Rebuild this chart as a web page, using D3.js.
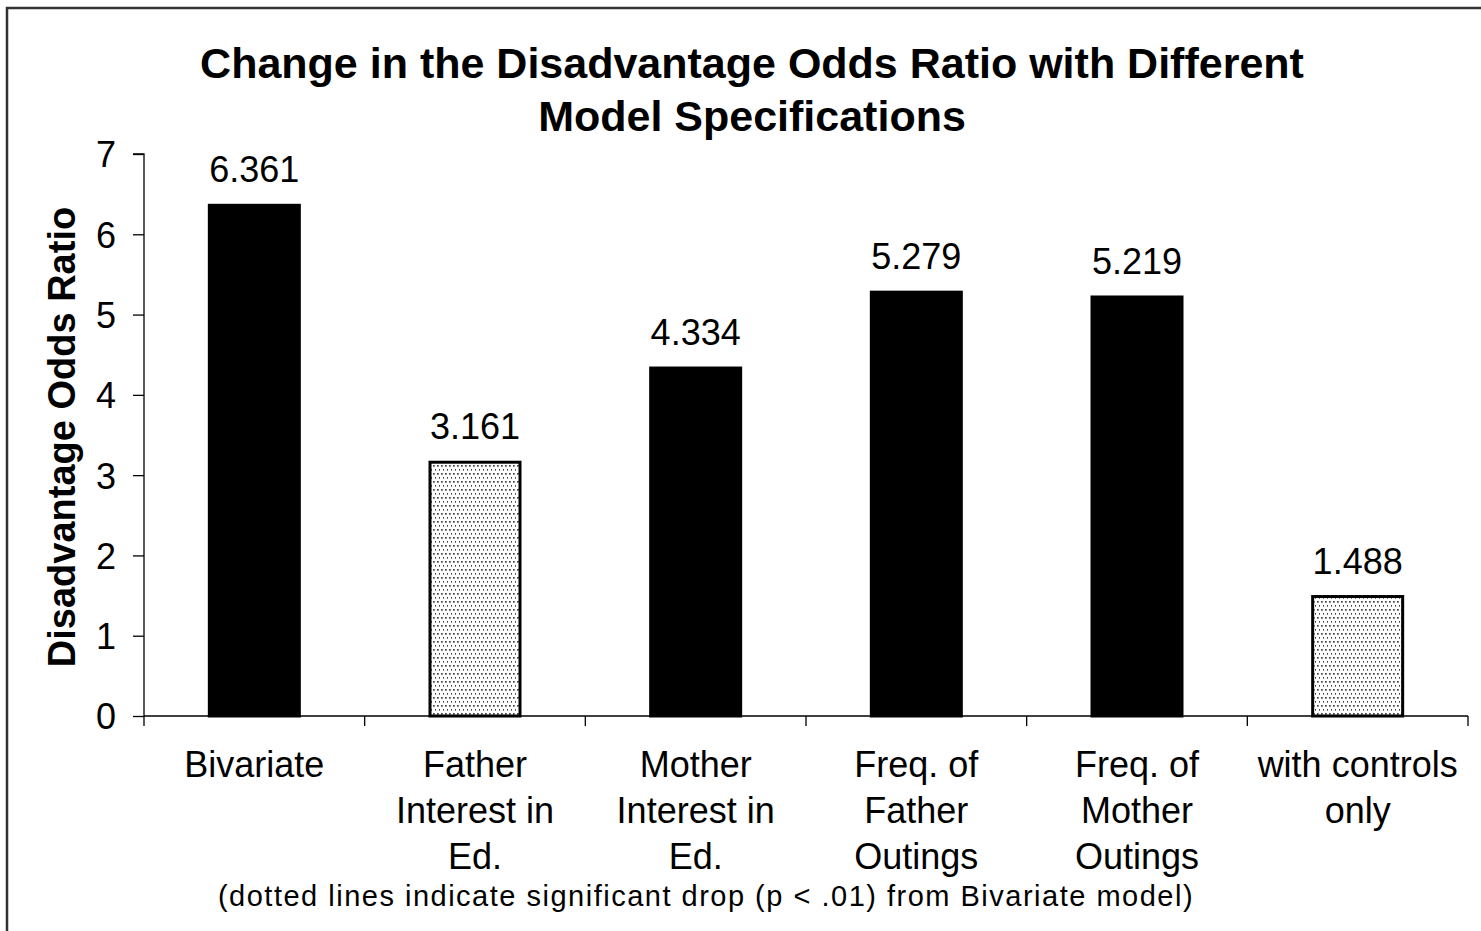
<!DOCTYPE html>
<html><head><meta charset="utf-8">
<script src="https://cdn.jsdelivr.net/npm/d3@7"></script>
<style>body{margin:0;background:#fff}svg{display:block;font-family:"Liberation Sans",Arial,sans-serif}</style>
</head><body>
<script>
const categories = ["Bivariate","Father Interest in Ed.","Mother Interest in Ed.","Freq. of Father Outings","Freq. of Mother Outings","with controls only"];
const categoryLines = [["Bivariate"],["Father","Interest in","Ed."],["Mother","Interest in","Ed."],["Freq. of","Father","Outings"],["Freq. of","Mother","Outings"],["with controls","only"]];
const values = [6.361, 3.161, 4.334, 5.279, 5.219, 1.488];
const valueLabels = ["6.361","3.161","4.334","5.279","5.219","1.488"];
const significant = [false, true, false, false, false, true];
const yTicks = [0,1,2,3,4,5,6,7];
const titleLines = ["Change in the Disadvantage Odds Ratio with Different","Model Specifications"];
const yTitle = "Disadvantage Odds Ratio";
const footnote = "(dotted lines indicate significant drop (p < .01) from Bivariate model)";

const W = 1481, H = 931;
const svg = d3.select("body").append("svg").attr("width", W).attr("height", H);

const defs = svg.append("defs");
const pat = defs.append("pattern").attr("id","dots").attr("patternUnits","userSpaceOnUse")
  .attr("width",4).attr("height",8);
pat.append("rect").attr("width",4).attr("height",8).attr("fill","#fff");
pat.append("rect").attr("x",1).attr("y",1).attr("width",1.7).attr("height",1.7).attr("fill","#444");
pat.append("rect").attr("x",3).attr("y",5).attr("width",1.7).attr("height",1.7).attr("fill","#444");

// outer border
svg.append("rect").attr("x",7).attr("y",8).attr("width",1500).attr("height",960)
  .attr("fill","none").attr("stroke","#333").attr("stroke-width",2.5);

const x0 = 144, x1 = 1468, y0 = 716, y1 = 154;
const x = d3.scaleBand().domain(categories).range([x0, x1]).padding(0);
const y = d3.scaleLinear().domain([0, 7]).range([y0, y1]);
const barW = 90;

// title
const title = svg.append("text").attr("text-anchor","middle").attr("font-weight","bold").attr("font-size",43);
titleLines.forEach((t,i) => title.append("tspan").attr("x",752).attr("y",78 + i*53).text(t));

// y axis
const yAxis = d3.axisLeft(y).tickValues(yTicks).tickSize(11).tickPadding(17).tickFormat(d3.format("d"));
const gy = svg.append("g").attr("transform",`translate(${x0},0)`).call(yAxis);
gy.select(".domain").attr("stroke","#000").attr("stroke-width",1.3).attr("d",`M-11,${y1}H0V${y0}`);
gy.selectAll(".tick line").attr("stroke","#000").attr("stroke-width",1.3);
gy.selectAll(".tick text").attr("font-size",36).attr("font-family","'Liberation Sans',Arial,sans-serif").attr("fill","#000").attr("dy","0.36em");

// x axis
const gx = svg.append("g");
gx.append("line").attr("x1",x0).attr("x2",x1).attr("y1",y0).attr("y2",y0).attr("stroke","#000").attr("stroke-width",1.3);
const bounds = categories.map(c => x(c)).concat([x1]);
gx.selectAll("line.t").data(bounds).join("line").attr("class","t")
  .attr("x1",d=>d).attr("x2",d=>d).attr("y1",y0).attr("y2",y0+10).attr("stroke","#000").attr("stroke-width",1.3);

// bars
svg.selectAll("rect.bar").data(values).join("rect").attr("class","bar")
  .attr("x",(d,i)=>x(categories[i]) + (x.bandwidth()-barW)/2)
  .attr("width",barW)
  .attr("y",d=>y(d)).attr("height",d=>y0 - y(d))
  .attr("fill",(d,i)=>significant[i] ? "url(#dots)" : "#000")
  .attr("stroke","#000").attr("stroke-width",3);

// value labels
svg.selectAll("text.val").data(values).join("text").attr("class","val")
  .attr("x",(d,i)=>x(categories[i]) + x.bandwidth()/2)
  .attr("y",d=>y(d) - 23)
  .attr("text-anchor","middle").attr("font-size",36)
  .text((d,i)=>valueLabels[i]);

// category labels
categoryLines.forEach((lines,i) => {
  const t = svg.append("text").attr("text-anchor","middle").attr("font-size",36);
  lines.forEach((l,j) => t.append("tspan").attr("x", x(categories[i]) + x.bandwidth()/2).attr("y", 777 + j*46).text(l));
});

// y title
svg.append("text").attr("transform","translate(75,437) rotate(-90)")
  .attr("text-anchor","middle").attr("font-weight","bold").attr("font-size",38).text(yTitle);

// footnote
svg.append("text").attr("x",706).attr("y",906).attr("text-anchor","middle").attr("font-size",29)
  .attr("letter-spacing",1.5).text(footnote);
</script>
</body></html>
